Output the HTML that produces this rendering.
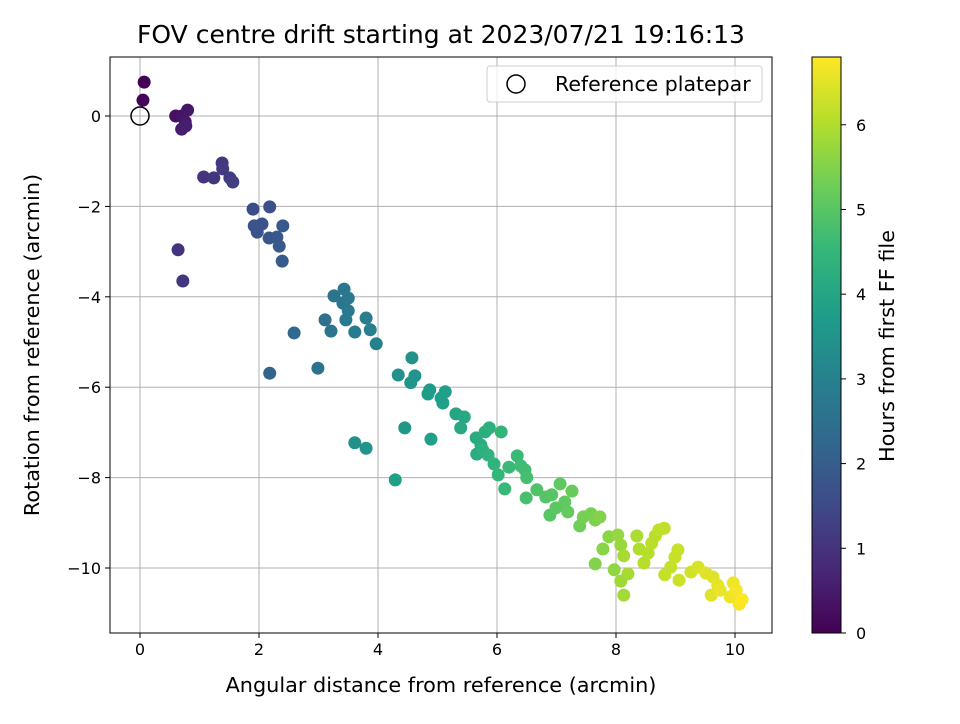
<!DOCTYPE html>
<html><head><meta charset="utf-8"><style>
body{margin:0;background:#fff;font-family:"DejaVu Sans","Liberation Sans",sans-serif;}
svg text{font-family:"DejaVu Sans","Liberation Sans",sans-serif;}
</style></head><body>
<svg id="c" width="960" height="720" xmlns="http://www.w3.org/2000/svg"></svg>
<script>
const xs=[0.07,0.05,0.6,0.7,0.8,0.76,0.7,0.77,1.07,1.24,1.38,1.39,1.51,1.56,0.64,0.72,1.9,2.18,1.92,1.97,2.05,2.17,2.3,2.34,2.4,2.39,2.59,2.18,2.99,3.11,3.21,3.26,3.41,3.43,3.5,3.5,3.46,3.61,3.8,3.87,3.97,3.61,3.8,4.29,4.34,4.57,4.55,4.62,4.45,4.87,4.84,5.06,5.13,5.09,4.89,5.31,5.45,5.39,5.65,5.66,5.73,5.8,5.87,5.76,5.85,5.95,6.07,6.02,6.13,6.2,6.34,6.4,6.47,6.5,6.49,6.67,6.82,6.89,6.92,6.99,7.06,7.14,7.19,7.26,7.39,7.45,7.58,7.65,7.73,7.65,7.78,7.88,7.97,8.03,8.08,8.08,8.13,8.2,8.13,8.35,8.39,8.47,8.54,8.6,8.66,8.72,8.81,8.82,8.92,8.99,9.04,9.06,9.26,9.38,9.51,9.6,9.63,9.71,9.75,9.92,9.97,10.02,10.07,10.12];
const ys=[0.75,0.35,0,0,0.13,-0.13,-0.29,-0.22,-1.35,-1.37,-1.04,-1.17,-1.37,-1.46,-2.96,-3.65,-2.06,-2.01,-2.43,-2.57,-2.39,-2.7,-2.68,-2.88,-2.43,-3.21,-4.8,-5.69,-5.58,-4.51,-4.76,-3.98,-4.14,-3.83,-4.03,-4.31,-4.51,-4.78,-4.47,-4.73,-5.04,-7.23,-7.35,-8.05,-5.73,-5.35,-5.9,-5.75,-6.9,-6.06,-6.15,-6.24,-6.1,-6.35,-7.15,-6.59,-6.66,-6.9,-7.12,-7.48,-7.28,-6.99,-6.9,-7.39,-7.5,-7.7,-6.99,-7.94,-8.25,-7.77,-7.52,-7.74,-7.83,-8.0,-8.45,-8.27,-8.43,-8.83,-8.38,-8.67,-8.14,-8.54,-8.76,-8.3,-9.07,-8.87,-8.8,-8.94,-8.87,-9.91,-9.58,-9.31,-10.04,-9.27,-9.49,-10.29,-10.6,-10.13,-9.73,-9.29,-9.58,-9.89,-9.67,-9.45,-9.29,-9.16,-9.12,-10.15,-9.98,-9.76,-9.6,-10.27,-10.09,-9.98,-10.11,-10.6,-10.2,-10.38,-10.49,-10.64,-10.33,-10.49,-10.8,-10.7];
const hours=[0.05,0.1,0.3,0.35,0.4,0.45,0.5,0.55,1.0,1.05,1.1,1.15,1.2,1.25,1.0,1.1,1.6,1.65,1.7,1.7,1.75,1.8,1.85,1.9,1.9,1.95,2.3,2.2,2.6,2.5,2.55,2.6,2.65,2.7,2.7,2.75,2.8,2.85,2.9,2.95,3.0,3.4,3.5,3.8,3.4,3.45,3.5,3.5,3.6,3.7,3.75,3.8,3.8,3.85,3.8,4.0,4.05,4.1,4.15,4.2,4.2,4.25,4.3,4.3,4.35,4.4,4.45,4.5,4.55,4.6,4.6,4.65,4.7,4.75,4.8,4.9,4.95,5.0,5.0,5.05,5.1,5.1,5.15,5.2,5.3,5.35,5.4,5.45,5.5,5.5,5.55,5.6,5.65,5.7,5.75,5.8,5.85,5.9,5.9,5.95,6.0,6.05,6.05,6.1,6.1,6.15,6.15,6.2,6.2,6.25,6.25,6.3,6.35,6.4,6.45,6.5,6.5,6.55,6.6,6.65,6.65,6.7,6.75,6.8];
const xTicks=[0,2,4,6,8,10];
const yTicks=[0,-2,-4,-6,-8,-10];
const cTicks=[0,1,2,3,4,5,6];
const L=110,R=772,T=57,B=633;
const X=v=>140+v*59.5, Y=v=>116-v*45.2;
const vir=[[68,1,84],[72,40,120],[62,74,137],[49,104,142],[38,130,142],[31,158,137],[53,183,121],[110,206,88],[181,222,43],[253,231,37]];
function col(t){let f=Math.max(0,Math.min(1,t/6.8))*(vir.length-1);let i=Math.min(Math.floor(f),vir.length-2),r=f-i;
 const c=vir[i].map((a,k)=>Math.round(a+(vir[i+1][k]-a)*r));return `rgb(${c})`;}
const s=document.getElementById('c');const NS='http://www.w3.org/2000/svg';
function el(tag,at,p){const e=document.createElementNS(NS,tag);for(const k in at)e.setAttribute(k,at[k]);(p||s).appendChild(e);return e;}
function txt(x,y,t,at){const e=el('text',Object.assign({x:x,y:y,'font-size':16,fill:'#000'},at||{}));e.textContent=t;return e;}
xTicks.forEach(v=>{const g=el('line',{x1:X(v),x2:X(v),y1:T,y2:B,stroke:'#b0b0b0','stroke-width':1});

el('line',{x1:X(v),x2:X(v),y1:B,y2:B+5,stroke:'#000'});
const l=txt(X(v),B+22,String(v),{'text-anchor':'middle'});
});
yTicks.forEach(v=>{const g=el('line',{x1:L,x2:R,y1:Y(v),y2:Y(v),stroke:'#b0b0b0','stroke-width':1});

el('line',{x1:L-5,x2:L,y1:Y(v),y2:Y(v),stroke:'#000'});
const l=txt(L-9,Y(v)+6,v<0?'\u2212'+(-v):String(v),{'text-anchor':'end'});
});
xs.forEach((x,i)=>{const c=el('circle',{cx:X(x),cy:Y(ys[i]),r:6.5,fill:col(hours[i])});
});
const ref=el('circle',{cx:X(0),cy:Y(0),r:9,fill:'none',stroke:'#000','stroke-width':1.5});

const fr=el('rect',{x:L,y:T,width:R-L,height:B-T,fill:'none',stroke:'#000','stroke-width':1});

const lg=el('g',{});
el('rect',{x:487,y:66,width:275,height:36,rx:3,fill:'#fff','fill-opacity':0.8,stroke:'#ccc'},lg);
el('circle',{cx:516,cy:84,r:9,fill:'none',stroke:'#000','stroke-width':1.5},lg);
const lt=txt(555,91,'Reference platepar',{'font-size':20.5});lg.appendChild(lt);
const tt=txt(441,43,'FOV centre drift starting at 2023/07/21 19:16:13',{'text-anchor':'middle','font-size':25});

const xt=txt(441,692,'Angular distance from reference (arcmin)',{'text-anchor':'middle','font-size':20.8});

const yt=txt(0,0,'Rotation from reference (arcmin)',{'text-anchor':'middle','font-size':20.8,transform:'translate(39,345) rotate(-90)'});

const defs=el('defs',{});const gr=el('linearGradient',{id:'vg',x1:0,y1:1,x2:0,y2:0},defs);
vir.forEach((c,i)=>el('stop',{offset:i/(vir.length-1),'stop-color':`rgb(${c})`},gr));
const cb=el('rect',{x:812,y:57,width:29,height:576,fill:'url(#vg)',stroke:'#000'});

const CY=v=>633-v*(576/6.8);
cTicks.forEach(v=>{el('line',{x1:841,x2:846,y1:CY(v),y2:CY(v),stroke:'#000'});
const l=txt(856,CY(v)+6,String(v));});
const ct=txt(0,0,'Hours from first FF file',{'text-anchor':'middle','font-size':20.8,transform:'translate(894,346) rotate(-90)'});

</script></body></html>
